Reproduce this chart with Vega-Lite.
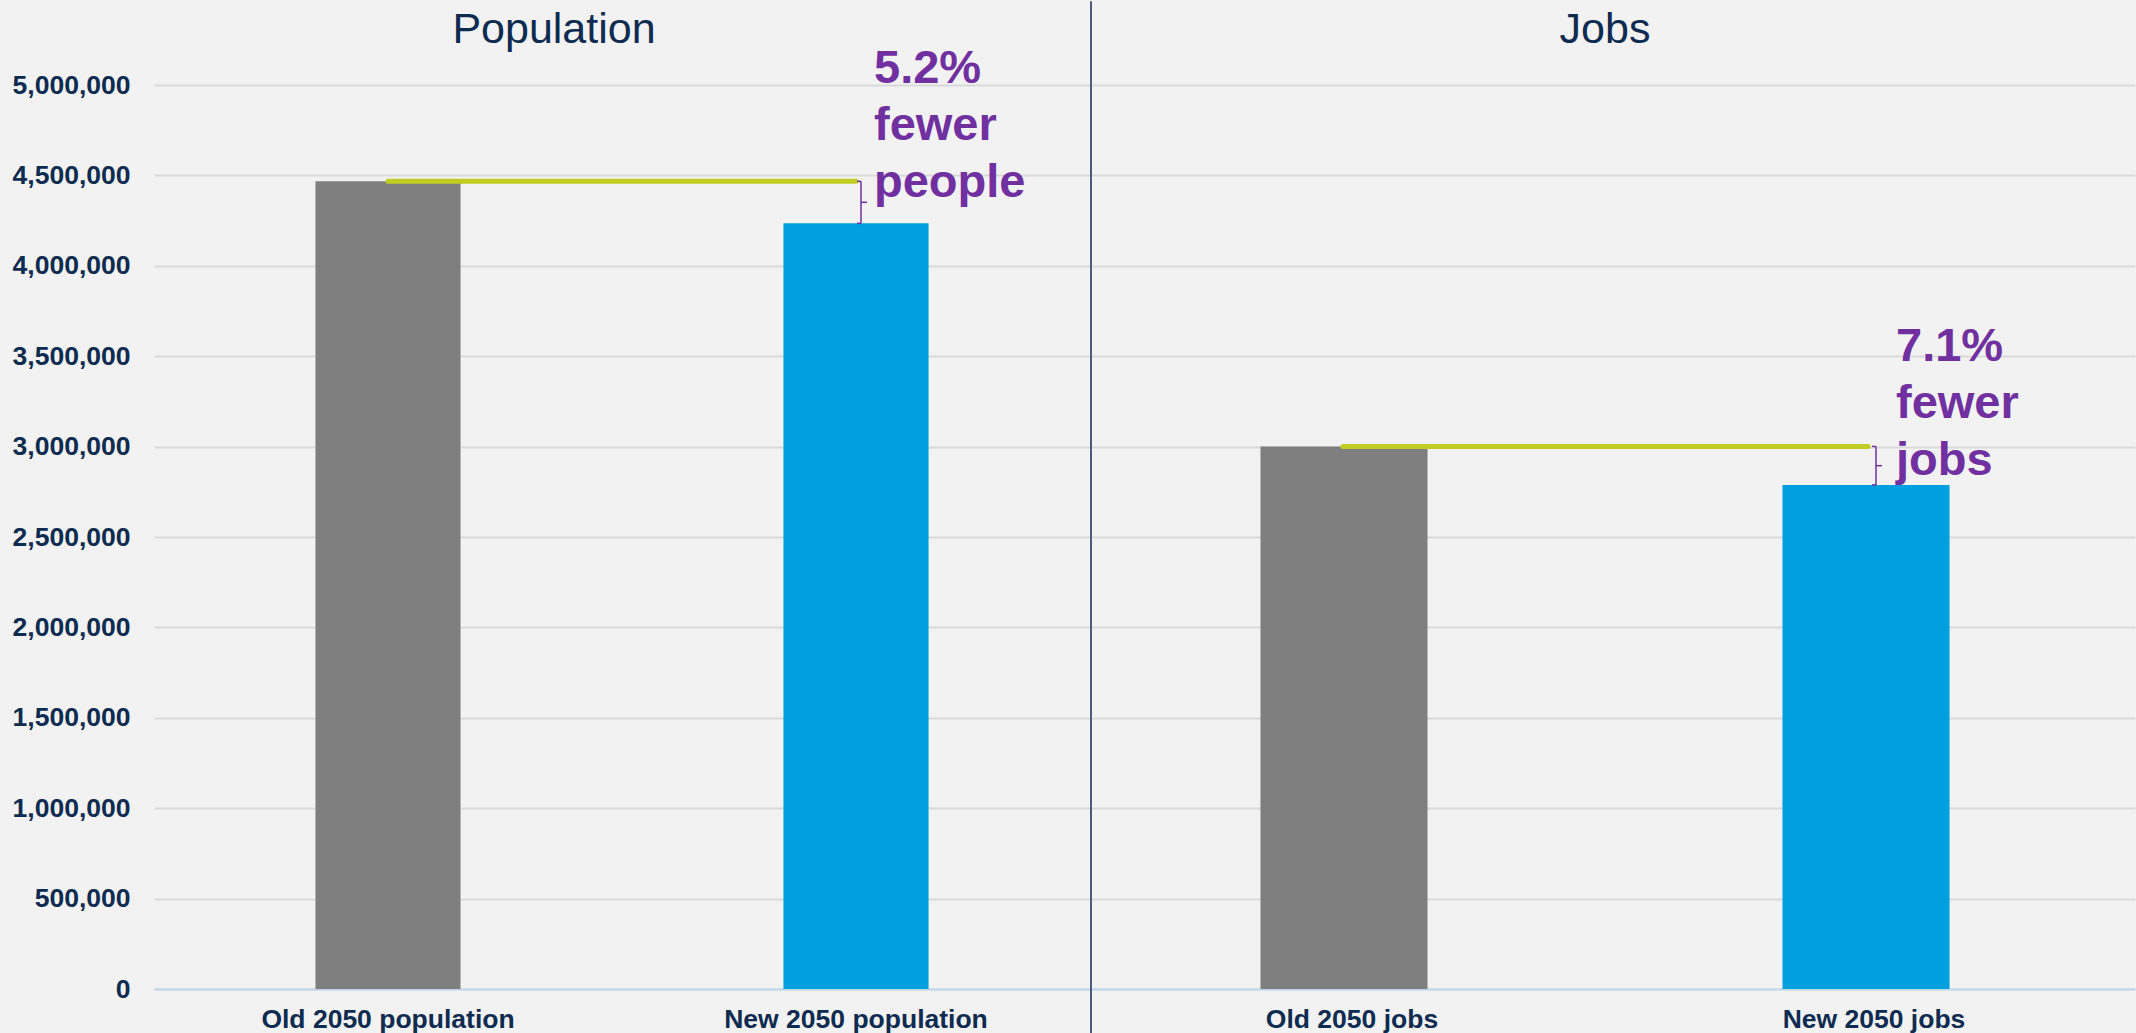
{
  "$schema": "https://vega.github.io/schema/vega-lite/v6.json",
  "background": "#f2f2f2",
  "padding": {"left": 12, "top": 0, "right": 2, "bottom": 0},
  "spacing": 0,
  "config": {
    "view": {"stroke": null},
    "font": "Liberation Sans",
    "axis": {"labelFont": "Liberation Sans", "labelFontWeight": "bold", "labelFontSize": 26.5, "labelColor": "#0e2b50", "labelLimit": 0}
  },
  "datasets": {
    "pop": [
      {"category": "Old 2050 population", "series": "Old", "value": 4467000},
      {"category": "New 2050 population", "series": "New", "value": 4235000}
    ],
    "jobs": [
      {"category": "Old 2050 jobs", "series": "Old", "value": 3001000},
      {"category": "New 2050 jobs", "series": "New", "value": 2788000}
    ]
  },
  "resolve": {"scale": {"x": "independent", "y": "independent"}, "axis": {"x": "independent", "y": "independent"}},
  "hconcat": [
    {
      "width": 936,
      "height": 904,
      "data": {"name": "pop"},
      "layer": [
        {
          "mark": {"type": "bar", "width": {"band": 0.31}},
          "encoding": {
            "x": {"field": "category", "type": "nominal", "sort": null, "title": null,
              "scale": {"paddingInner": 0, "paddingOuter": 0},
              "axis": {"labelAngle": 0, "ticks": false, "domainColor": "#bdd7ee", "domainWidth": 2, "labelPadding": 17, "grid": false}},
            "y": {"field": "value", "type": "quantitative", "title": null,
              "scale": {"domain": [0, 5000000], "nice": false},
              "axis": {"values": [0, 500000, 1000000, 1500000, 2000000, 2500000, 3000000, 3500000, 4000000, 4500000, 5000000], "format": ",d", "ticks": false, "domain": false, "grid": true, "gridColor": "#d9d9d9", "gridWidth": 2, "labelPadding": 24}},
            "color": {"field": "series", "type": "nominal", "legend": null, "scale": {"domain": ["Old", "New"], "range": ["#7f7f7f", "#009fdf"]}}
          }
        },
        {
          "transform": [{"filter": "datum.series === 'Old'"}],
          "mark": {"type": "text", "text": "Population", "font": "Liberation Sans", "fontSize": 43, "color": "#0e2b50", "align": "center", "baseline": "alphabetic", "dx": -68},
          "encoding": {
            "x": {"datum": "Old 2050 population", "bandPosition": 1},
            "y": {"datum": 5231000, "type": "quantitative"}
          }
        },
        {
          "transform": [{"filter": "datum.series === 'Old'"}],
          "mark": {"type": "rule", "color": "#c2cd23", "strokeWidth": 5, "strokeCap": "round"},
          "encoding": {
            "x": {"datum": "Old 2050 population", "bandPosition": 0.5},
            "x2": {"datum": "New 2050 population"},
            "y": {"field": "value", "type": "quantitative"}
          }
        },
        {
          "mark": {"type": "rule", "color": "#7030a0", "strokeWidth": 1.5, "xOffset": 5},
          "encoding": {
            "x": {"datum": "New 2050 population", "bandPosition": 0.5},
            "y": {"field": "value", "aggregate": "max", "type": "quantitative"},
            "y2": {"field": "value", "aggregate": "min"}
          }
        },
        {
          "mark": {"type": "rule", "color": "#7030a0", "strokeWidth": 1.5, "xOffset": 1, "x2Offset": 5},
          "encoding": {
            "x": {"datum": "New 2050 population", "bandPosition": 0.5},
            "x2": {"datum": "New 2050 population"},
            "y": {"field": "value", "type": "quantitative"}
          }
        },
        {
          "mark": {"type": "rule", "color": "#7030a0", "strokeWidth": 1.5, "xOffset": 5, "x2Offset": 11},
          "encoding": {
            "x": {"datum": "New 2050 population", "bandPosition": 0.5},
            "x2": {"datum": "New 2050 population"},
            "y": {"field": "value", "aggregate": "mean", "type": "quantitative"}
          }
        },
        {
          "transform": [{"filter": "datum.series === 'Old'"}],
          "mark": {"type": "text", "text": ["5.2%", "fewer", "people"], "font": "Liberation Sans", "fontWeight": "bold", "fontSize": 47, "color": "#7030a0", "align": "left", "baseline": "alphabetic", "lineHeight": 57, "dx": 18, "dy": -98},
          "encoding": {
            "x": {"datum": "New 2050 population", "bandPosition": 0.5},
            "y": {"field": "value", "type": "quantitative"}
          }
        }
      ]
    },
    {
      "width": 1044,
      "height": 904,
      "data": {"name": "jobs"},
      "layer": [
        {
          "mark": {"type": "bar", "width": {"band": 0.32}, "xOffset": -8},
          "encoding": {
            "x": {"field": "category", "type": "nominal", "sort": null, "title": null,
              "scale": {"paddingInner": 0, "paddingOuter": 0},
              "axis": {"labelAngle": 0, "ticks": false, "domainColor": "#bdd7ee", "domainWidth": 2, "labelPadding": 17, "grid": false}},
            "y": {"field": "value", "type": "quantitative", "title": null,
              "scale": {"domain": [0, 5000000], "nice": false},
              "axis": {"values": [0, 500000, 1000000, 1500000, 2000000, 2500000, 3000000, 3500000, 4000000, 4500000, 5000000], "labels": false, "ticks": false, "domain": false, "grid": true, "gridColor": "#d9d9d9", "gridWidth": 2, "minExtent": 0, "maxExtent": 0}},
            "color": {"field": "series", "type": "nominal", "legend": null, "scale": {"domain": ["Old", "New"], "range": ["#7f7f7f", "#009fdf"]}}
          }
        },
        {
          "mark": {"type": "rule", "color": "#4a5d7e", "strokeWidth": 2},
          "encoding": {
            "x": {"datum": "Old 2050 jobs", "bandPosition": 0},
            "y": {"datum": 5462000, "type": "quantitative"},
            "y2": {"datum": -250000}
          }
        },
        {
          "transform": [{"filter": "datum.series === 'Old'"}],
          "mark": {"type": "text", "text": "Jobs", "font": "Liberation Sans", "fontSize": 43, "color": "#0e2b50", "align": "center", "baseline": "alphabetic", "dx": -8},
          "encoding": {
            "x": {"datum": "Old 2050 jobs", "bandPosition": 1},
            "y": {"datum": 5231000, "type": "quantitative"}
          }
        },
        {
          "transform": [{"filter": "datum.series === 'Old'"}],
          "mark": {"type": "rule", "color": "#c2cd23", "strokeWidth": 5, "strokeCap": "round", "xOffset": -9, "x2Offset": -6},
          "encoding": {
            "x": {"datum": "Old 2050 jobs", "bandPosition": 0.5},
            "x2": {"datum": "New 2050 jobs"},
            "y": {"field": "value", "type": "quantitative"}
          }
        },
        {
          "mark": {"type": "rule", "color": "#7030a0", "strokeWidth": 1.5, "xOffset": 2},
          "encoding": {
            "x": {"datum": "New 2050 jobs", "bandPosition": 0.5},
            "y": {"field": "value", "aggregate": "max", "type": "quantitative"},
            "y2": {"field": "value", "aggregate": "min"}
          }
        },
        {
          "mark": {"type": "rule", "color": "#7030a0", "strokeWidth": 1.5, "xOffset": -2, "x2Offset": 2},
          "encoding": {
            "x": {"datum": "New 2050 jobs", "bandPosition": 0.5},
            "x2": {"datum": "New 2050 jobs"},
            "y": {"field": "value", "type": "quantitative"}
          }
        },
        {
          "mark": {"type": "rule", "color": "#7030a0", "strokeWidth": 1.5, "xOffset": 2, "x2Offset": 8},
          "encoding": {
            "x": {"datum": "New 2050 jobs", "bandPosition": 0.5},
            "x2": {"datum": "New 2050 jobs"},
            "y": {"field": "value", "aggregate": "mean", "type": "quantitative"}
          }
        },
        {
          "transform": [{"filter": "datum.series === 'Old'"}],
          "mark": {"type": "text", "text": ["7.1%", "fewer", "jobs"], "font": "Liberation Sans", "fontWeight": "bold", "fontSize": 47, "color": "#7030a0", "align": "left", "baseline": "alphabetic", "lineHeight": 57, "dx": 22, "dy": -85},
          "encoding": {
            "x": {"datum": "New 2050 jobs", "bandPosition": 0.5},
            "y": {"field": "value", "type": "quantitative"}
          }
        }
      ]
    }
  ]
}
